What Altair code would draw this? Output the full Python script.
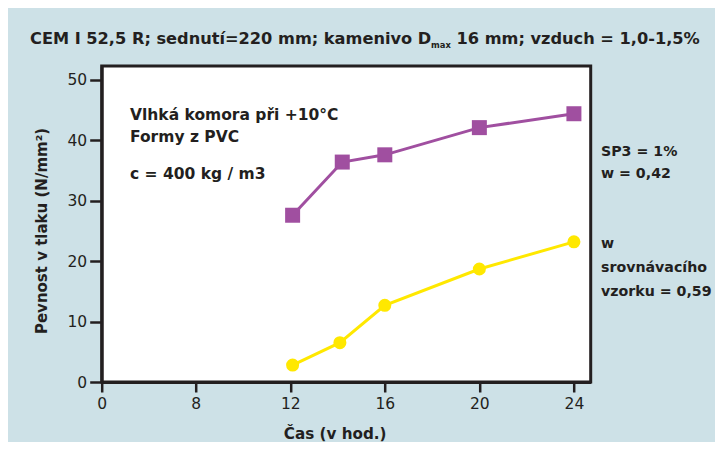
import altair as alt
import pandas as pd

# data
hours_sp3 = [12.1, 14.2, 16, 20, 24]
strength_sp3 = [27.6, 36.4, 37.6, 42.1, 44.4]
hours_ref = [12.1, 14.1, 16, 20, 24]
strength_ref = [2.8, 6.5, 12.7, 18.7, 23.2]
x_ticks = [0, 8, 12, 16, 20, 24]
y_ticks = [0, 10, 20, 30, 40, 50]

df_sp3 = pd.DataFrame({"h": hours_sp3, "s": strength_sp3})
df_ref = pd.DataFrame({"h": hours_ref, "s": strength_ref})

FONT = "DejaVu Sans"
INK = "#231f20"
BG = "#cde1e7"
PURPLE = "#a04fa0"
YELLOW = "#ffe800"

W, H = 489, 316
PL, PT = 93.7, 58  # plot offset inside the chart (page offset 8 added)

xscale = alt.Scale(domain=[0, 8, 24.71], range=[0, 94, W], nice=False, zero=False)
yscale = alt.Scale(domain=[0, 52.3], nice=False, zero=True)

xaxis = alt.Axis(values=x_ticks, title="Čas (v hod.)", grid=False, tickSize=10,
                 tickWidth=2.5, domainWidth=3, labelPadding=4, titlePadding=15,
                 titleX=233, labelFontSize=15.5, titleFontSize=15.2, labelFlush=False)
yaxis = alt.Axis(values=y_ticks, title=None, grid=False, tickSize=12, tickWidth=2.5,
                 domainWidth=3, labelPadding=3, labelFontSize=15.5)

def base(df):
    return alt.Chart(df).encode(
        x=alt.X("h:Q", scale=xscale, axis=xaxis),
        y=alt.Y("s:Q", scale=yscale, axis=yaxis),
    )

line_sp3 = base(df_sp3).mark_line(color=PURPLE, strokeWidth=3)
pts_sp3 = base(df_sp3).mark_point(shape="square", filled=True, opacity=1, size=225, color=PURPLE)
line_ref = base(df_ref).mark_line(color=YELLOW, strokeWidth=3)
pts_ref = base(df_ref).mark_point(shape="circle", filled=True, opacity=1, size=170, color=YELLOW)

one = alt.Data(values=[{"a": 1}])

def txt(text, px, py, size=15.5, bold=True, align="left", angle=0, baseline="alphabetic"):
    kw = dict(text=text, font=FONT, fontSize=size, fontWeight="bold" if bold else "normal",
              color=INK, align=align, baseline=baseline)
    if angle:
        kw["angle"] = angle
    return alt.Chart(one).mark_text(**kw).encode(
        x=alt.value(px - 8 - PL), y=alt.value(py - 8 - PT))

texts = [
    txt("CEM I 52,5 R; sednutí=220 mm; kamenivo D", 30, 43.5, size=16.2),
    txt("max", 431, 48, size=8.4),
    txt("16 mm; vzduch = 1,0-1,5%", 456.5, 43.5, size=16.2),
    txt("Vlhká komora při +10°C", 130, 120),
    txt("Formy z PVC", 130, 142),
    txt("c = 400 kg / m3", 130, 179),
    txt("SP3 = 1%", 601, 156, size=14.2),
    txt("w = 0,42", 601, 178, size=14.2),
    txt("w", 601, 248, size=14.2),
    txt("srovnávacího", 601, 272, size=14.2),
    txt("vzorku = 0,59", 601, 296, size=14.2),
    txt("Pevnost v tlaku (N/mm²)", 42, 231, size=15, align="center", angle=270, baseline="middle"),
]

chart = alt.layer(line_sp3, pts_sp3, line_ref, pts_ref, *texts).properties(
    width=W, height=H,
    autosize=alt.AutoSizeParams(type="none"),
    padding={"left": PL, "top": PT, "right": 707 - PL - W, "bottom": 434 - PT - H},
    background=BG,
).configure_view(
    fill="white", stroke=INK, strokeWidth=3
).configure_axis(
    labelFont=FONT, titleFont=FONT, labelColor=INK, titleColor=INK,
    domainColor=INK, tickColor=INK, titleFontWeight="bold",
)

chart.save("out.html", embed_options={"renderer": "svg", "actions": False})
